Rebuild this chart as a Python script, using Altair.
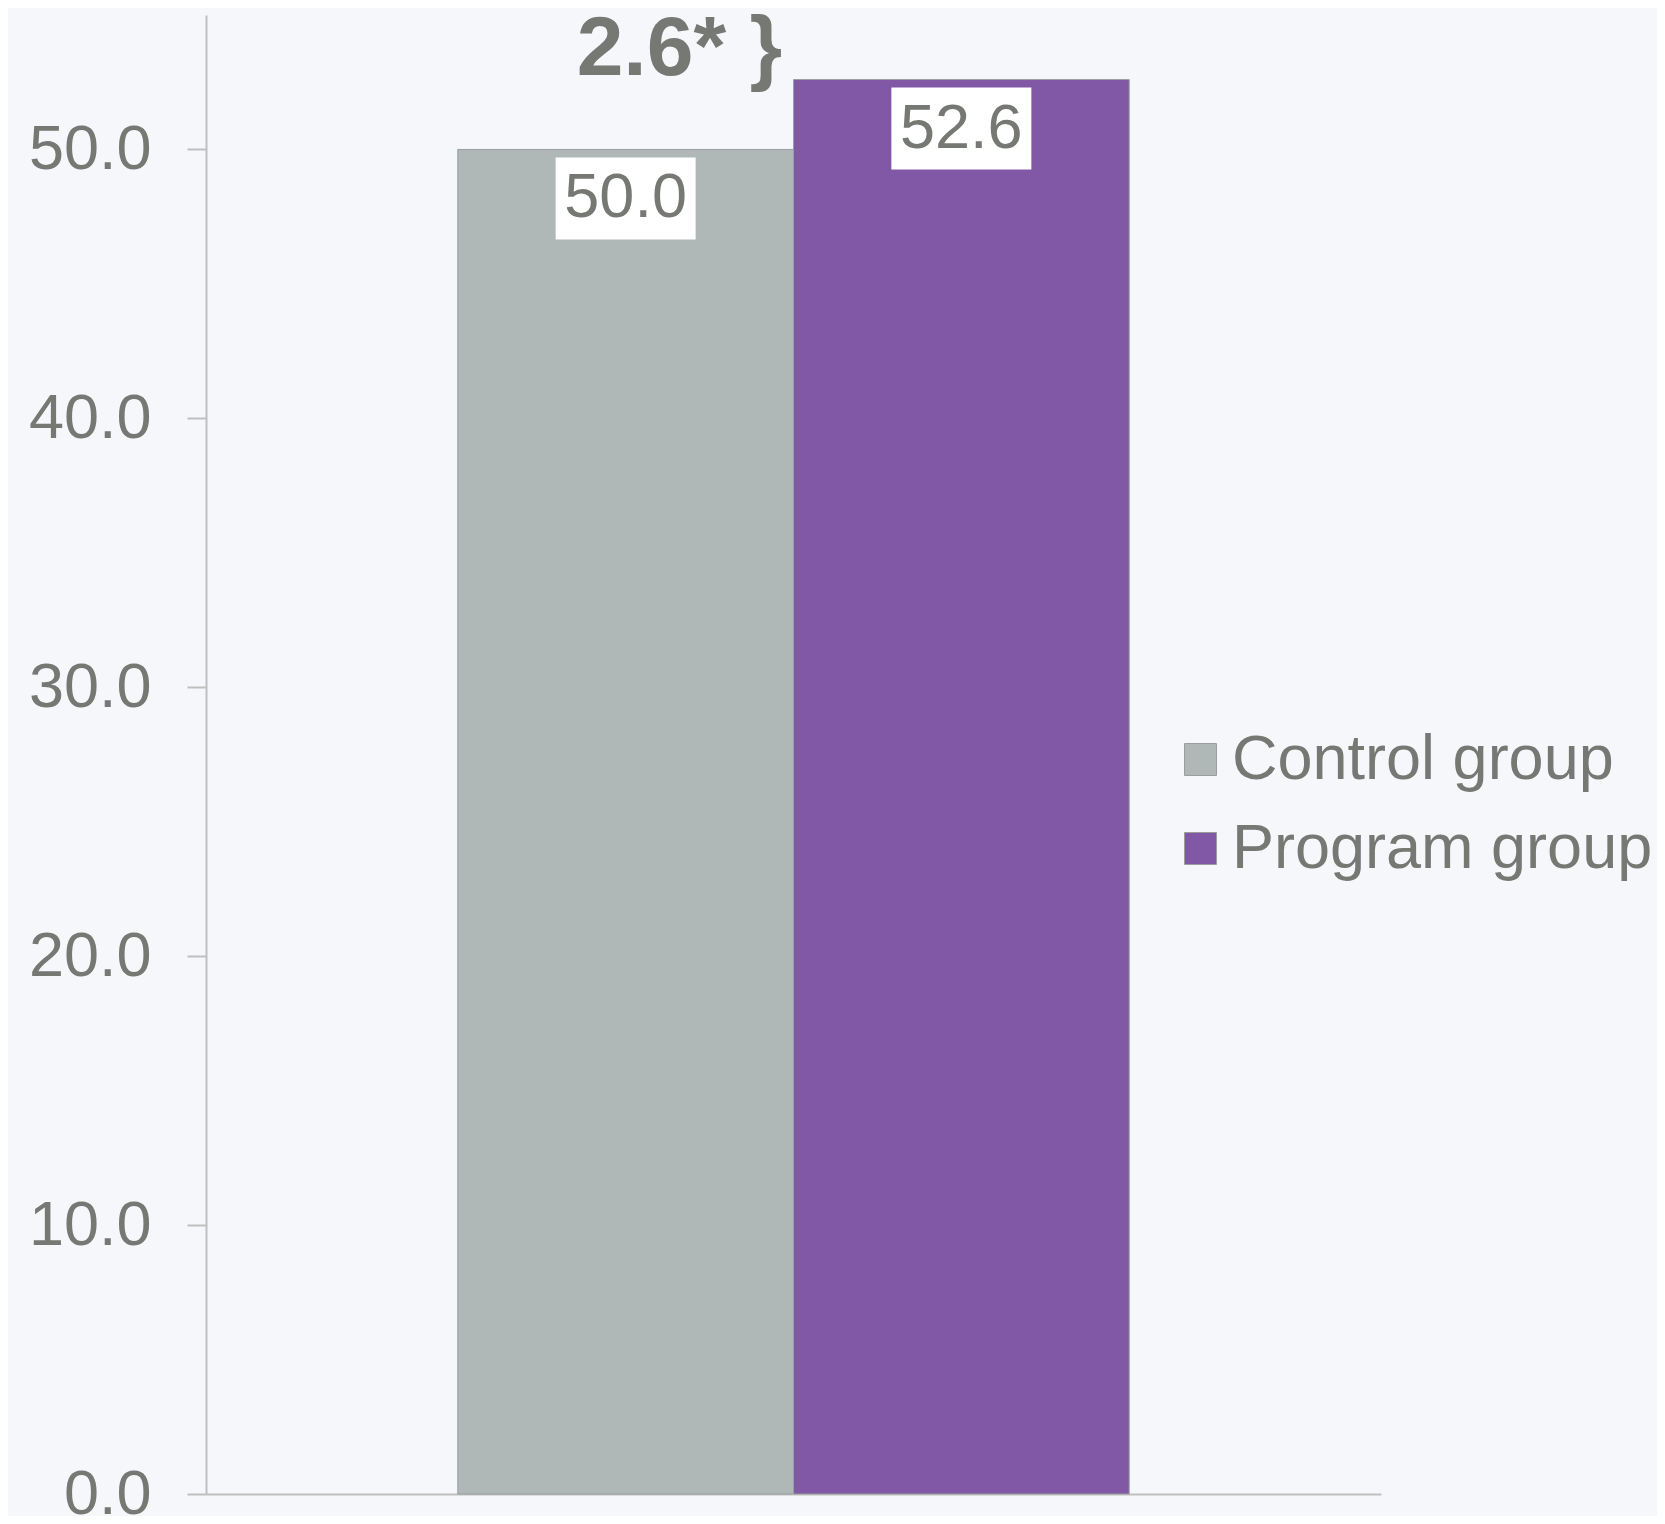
import altair as alt
import pandas as pd

groups = ["Control group", "Program group"]
values = [50.0, 52.6]
labels = ["50.0", "52.6"]
diff_text = ["2.6* }"]
y_ticks = [0, 10, 20, 30, 40, 50]

TXT = "#767874"
BG = "#F5F7FB"
FONT = "Liberation Sans, Arial, Helvetica, sans-serif"

df = pd.DataFrame({"group": groups, "value": values, "label": labels})
ann = pd.DataFrame({"group": [groups[0]], "value": [values[1]], "text": diff_text})

xscale = alt.Scale(domain=groups, paddingInner=0, paddingOuter=0.75)
yscale = alt.Scale(domain=[0, 55], nice=False)

x = alt.X("group:N", scale=xscale, axis=alt.Axis(labels=False, ticks=False, title=None,
                                                  domainColor="#BFBFBF", domainWidth=2))

bars = alt.Chart(df).mark_bar(stroke="#9A9F9E", strokeWidth=1).encode(
    x=x,
    y=alt.Y("value:Q", scale=yscale,
            axis=alt.Axis(values=y_ticks, format=".1f", title=None, grid=False,
                          domainColor="#BFBFBF", domainWidth=2,
                          tickColor="#BFBFBF", tickWidth=2, tickSize=19,
                          labelFontSize=63, labelColor=TXT, labelFont=FONT,
                          labelPadding=36)),
    color=alt.Color("group:N", scale=alt.Scale(domain=groups, range=["#AFB8B7", "#8058A5"]),
                    legend=alt.Legend(title=None, orient="none", legendX=963, legendY=713,
                                      symbolType="square", symbolSize=1024,
                                      symbolStrokeColor="#9A9F9E", symbolStrokeWidth=1,
                                      labelFontSize=63, labelColor=TXT, labelFont=FONT,
                                      labelLimit=0, labelOffset=0, rowPadding=25, padding=0)),
)

boxes = alt.Chart(df).transform_calculate(
    top="datum.value - 0.3", bot="datum.value - 3.35"
).mark_bar(width=140, color="white").encode(
    x=x,
    y=alt.Y("top:Q", scale=yscale),
    y2="bot:Q",
)

texts = alt.Chart(df).mark_text(fontSize=63, color=TXT, font=FONT, baseline="middle", dy=49).encode(
    x=x,
    y=alt.Y("value:Q", scale=yscale),
    text="label:N",
)

annot = alt.Chart(ann).mark_text(fontSize=84, fontWeight="bold", color=TXT, font=FONT,
                                 align="left", baseline="alphabetic", dx=-49, dy=-5).encode(
    x=x,
    y=alt.Y("value:Q", scale=yscale),
    text="text:N",
)

chart = alt.layer(bars, boxes, texts, annot).properties(
    width=1175, height=1479,
    autosize=alt.AutoSizeParams(type="none"),
    padding={"left": 198, "top": 7, "right": 276, "bottom": 22},
    background=BG,
).configure_view(stroke=None)

chart.save("out.html", embed_options={"renderer": "svg", "actions": False})
